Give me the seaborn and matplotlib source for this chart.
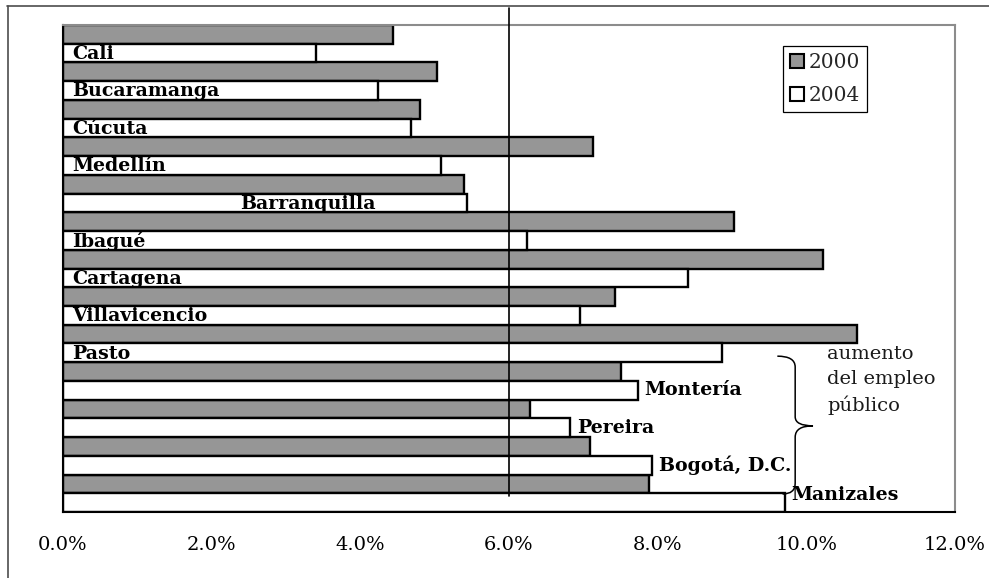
import matplotlib
matplotlib.use("Agg")
import matplotlib.pyplot as plt
import pandas as pd
import seaborn as sns
from matplotlib.path import Path
from matplotlib.patches import PathPatch, Patch
from matplotlib.lines import Line2D
from matplotlib.ticker import FuncFormatter, MultipleLocator

# Tasa de desempleo por ciudad (%), 2000 y 2004
ciudades = ["Cali", "Bucaramanga", "Cúcuta", "Medellín", "Barranquilla", "Ibagué",
            "Cartagena", "Villavicencio", "Pasto", "Montería", "Pereira",
            "Bogotá, D.C.", "Manizales"]
v2000 = [4.44, 5.03, 4.80, 7.13, 5.39, 9.03, 10.23, 7.42, 10.68, 7.51, 6.28, 7.09, 7.89]
v2004 = [3.40, 4.24, 4.68, 5.08, 5.44, 6.24, 8.41, 6.96, 8.86, 7.73, 6.82, 7.93, 9.71]
anios = ["2000", "2004"]
referencia = 6.0
nota = "aumento\ndel empleo\npúblico"

sns.set_style("white")
plt.rcParams["font.family"] = ["DejaVu Serif"]

W, H = 989, 578
fig = plt.figure(figsize=(W / 100, H / 100), dpi=100)
ax = fig.add_axes([63 / W, (H - 512) / H, (955 - 63) / W, (512 - 25) / H])

n = len(ciudades)
df = pd.DataFrame({
    "ciudad": ciudades * 2,
    "anio": [anios[0]] * n + [anios[1]] * n,
    "valor": v2000 + v2004,
})

gris = "#969696"
sns.barplot(data=df, x="valor", y="ciudad", hue="anio", hue_order=anios,
            order=ciudades, palette={anios[0]: gris, anios[1]: "white"},
            orient="h", width=1.0, saturation=1, errorbar=None,
            edgecolor="black", linewidth=1.7, legend=False, ax=ax)

ax.set_xlim(0, 12)
ax.set_ylim(n - 0.5, -0.5)
ax.xaxis.set_major_locator(MultipleLocator(2))
ax.xaxis.set_major_formatter(FuncFormatter(lambda v, p: f"{v:.1f}%"))
ax.tick_params(axis="x", direction="out", length=4, width=1, labelsize=14,
               pad=13, colors="black")
ax.tick_params(axis="y", left=False, labelleft=False)
ax.set_xlabel("")
ax.set_ylabel("")

for s in ["top", "right"]:
    ax.spines[s].set_color("#8c8c8c")
    ax.spines[s].set_linewidth(1.5)
for s in ["left", "bottom"]:
    ax.spines[s].set_color("black")
    ax.spines[s].set_linewidth(1.5)

# Línea de referencia en 6 %
ax.plot([referencia, referencia], [-0.95, n - 1 + 0.07], color="black", lw=1.2,
        clip_on=False, zorder=6)

# Etiquetas de ciudad
derecha = ["Montería", "Pereira", "Bogotá, D.C.", "Manizales"]
fuente = dict(fontsize=13.7, fontweight="bold", color="black", zorder=7)
for i, c in enumerate(ciudades):
    yb = i + 0.25
    if c in derecha:
        dy = -0.2 if c == "Manizales" else 0.0
        ax.annotate(c, xy=(v2004[i], yb + dy), xytext=(5, 0),
                    textcoords="offset points", ha="left", va="center", **fuente)
    elif c == "Barranquilla":
        ax.text(2.38, yb + 0.02, c, ha="left", va="center", **fuente)
    else:
        ax.text(0.12, yb + 0.02, c, ha="left", va="center", **fuente)

# Llave que agrupa las ciudades
xa, xb, xt = 9.61, 9.85, 10.09
y0, y1, ym, y2, y3 = 8.34, 8.63, 10.20, 11.73, 12.02
verts = [(xa, y0), (xb, y0), (xb, y1),
         (xb, ym - 0.24),
         (xb, ym), (xt, ym),
         (xb, ym), (xb, ym + 0.3),
         (xb, y2),
         (xb, y3), (xa + 0.07, y3)]
codes = [Path.MOVETO, Path.CURVE3, Path.CURVE3,
         Path.LINETO,
         Path.CURVE3, Path.CURVE3,
         Path.CURVE3, Path.CURVE3,
         Path.LINETO,
         Path.CURVE3, Path.CURVE3]
ax.add_patch(PathPatch(Path(verts, codes), facecolor="none", edgecolor="black",
                       lw=1.1, clip_on=False, zorder=7))
ax.text(10.28, 8.05, nota, ha="left", va="top", fontsize=14, linespacing=1.47,
        color="#1a1a1a", zorder=7)

# Leyenda
handles = [Patch(facecolor=gris, edgecolor="black", linewidth=1.5, label=anios[0]),
           Patch(facecolor="white", edgecolor="black", linewidth=1.5, label=anios[1])]
leg = ax.legend(handles=handles, loc="upper left",
                bbox_to_anchor=(783 / W, 1 - 46 / H), bbox_transform=fig.transFigure,
                borderaxespad=0, fontsize=14.5, handlelength=0.7, handleheight=0.7,
                handletextpad=0.25, labelspacing=0.72, borderpad=0.33,
                fancybox=False, frameon=True)
leg.get_frame().set_edgecolor("black")
leg.get_frame().set_linewidth(0.9)
leg.get_frame().set_alpha(1)

# Marco exterior
fig.add_artist(Line2D([7 / W, 1], [1 - 5.5 / H, 1 - 5.5 / H], transform=fig.transFigure,
                      color="#4d4d4d", lw=1.2))
fig.add_artist(Line2D([7.5 / W, 7.5 / W], [0, 1 - 5.5 / H], transform=fig.transFigure,
                      color="#4d4d4d", lw=1.2))

fig.savefig("out.png", dpi=100, facecolor="white")
